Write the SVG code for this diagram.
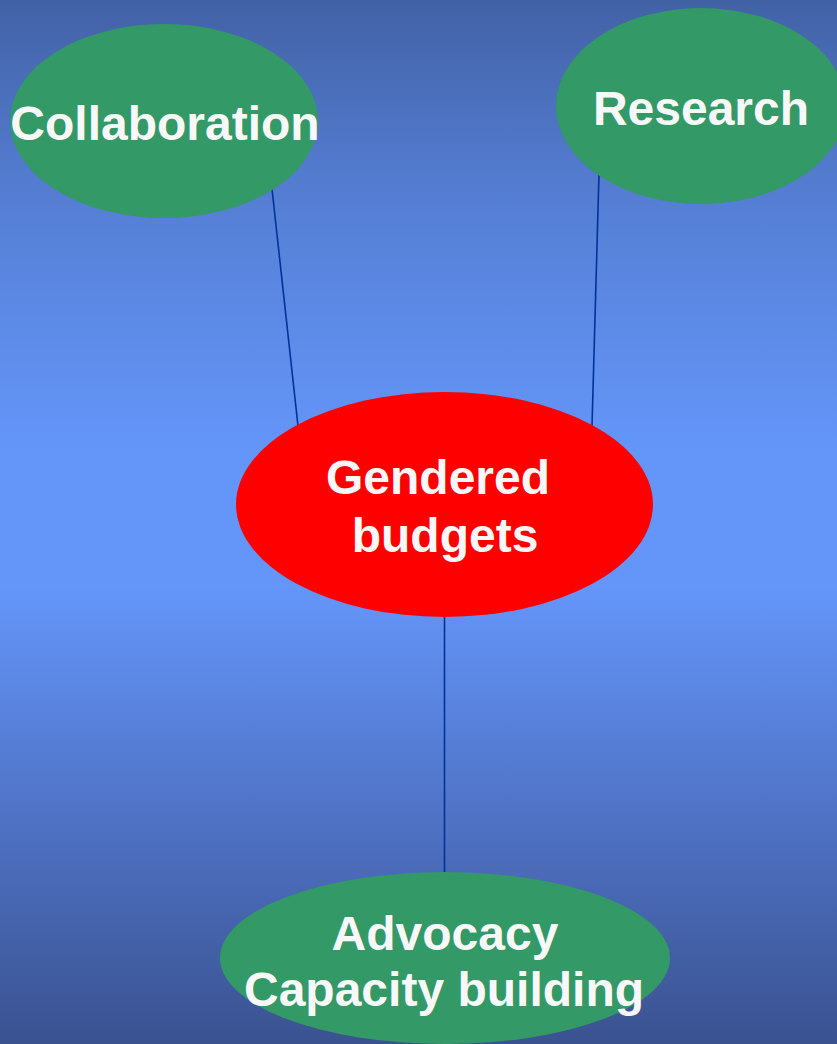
<svg xmlns="http://www.w3.org/2000/svg" width="837" height="1044" viewBox="0 0 837 1044">
<defs>
<linearGradient id="bg" x1="0" y1="0" x2="0" y2="1">
<stop offset="0" stop-color="#4262A6"/>
<stop offset="0.2" stop-color="#5680D6"/>
<stop offset="0.44" stop-color="#6496FA"/>
<stop offset="0.56" stop-color="#6496FA"/>
<stop offset="0.78" stop-color="#5073C6"/>
<stop offset="1" stop-color="#3A5290"/>
</linearGradient>
<style>
.g{fill:#339966}
.t{font-family:"Liberation Sans",Arial,sans-serif;font-weight:bold;font-size:48px;fill:#F8F8F8;text-anchor:middle}
.c{stroke:#003399;stroke-width:1.6;fill:none}
</style>
</defs>
<rect width="837" height="1044" fill="url(#bg)"/>
<g id="connectors">
<line class="c" x1="272" y1="189" x2="298" y2="426"/>
<line class="c" x1="599" y1="174" x2="592" y2="426"/>
<line class="c" x1="444.5" y1="617" x2="444.5" y2="873"/>
</g>
<g id="collaboration">
<ellipse class="g" cx="164" cy="121" rx="154" ry="97"/>
<text class="t" x="165" y="140">Collaboration</text>
</g>
<g id="research">
<ellipse class="g" cx="701" cy="106" rx="145" ry="98"/>
<text class="t" x="701" y="125">Research</text>
</g>
<g id="gendered-budgets">
<ellipse cx="444.5" cy="504.5" rx="208.5" ry="112.5" fill="#FF0000"/>
<text class="t" x="438" y="494">Gendered</text>
<text class="t" x="445" y="552">budgets</text>
</g>
<g id="advocacy">
<ellipse class="g" cx="445" cy="958" rx="225" ry="86"/>
<text class="t" x="445" y="950">Advocacy</text>
<text class="t" x="444" y="1006">Capacity building</text>
</g>
</svg>
